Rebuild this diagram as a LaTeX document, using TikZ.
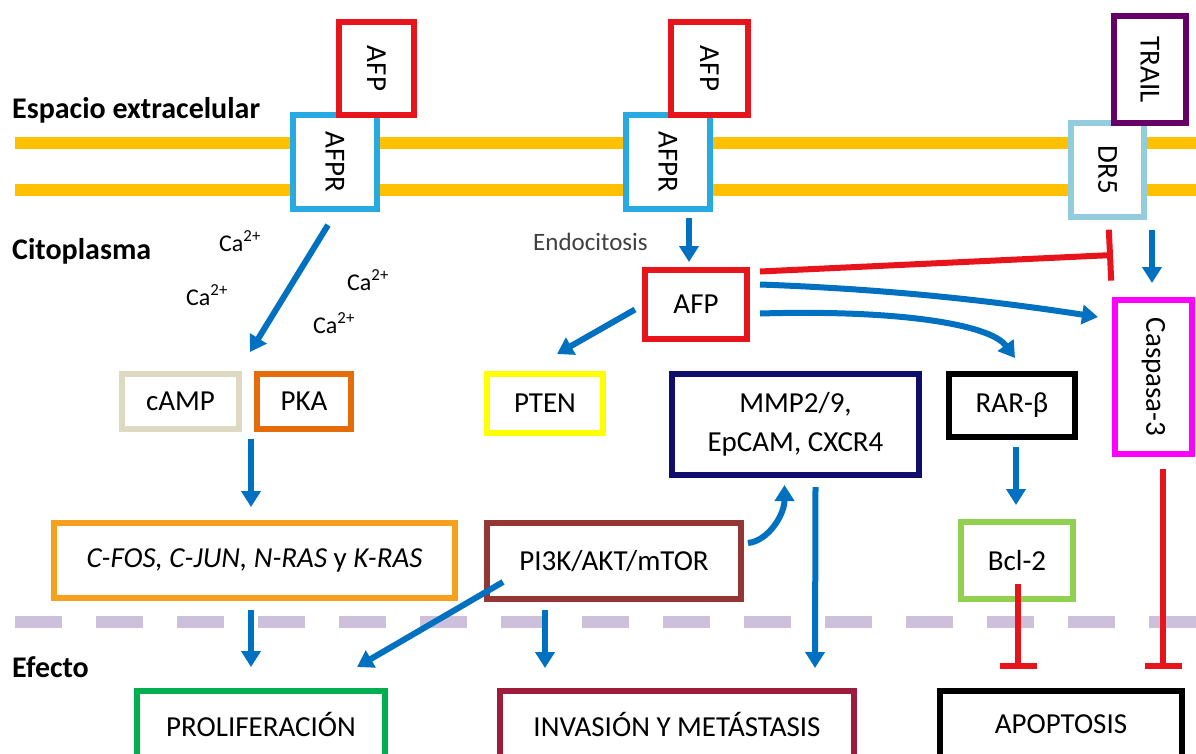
\documentclass[tikz,border=0pt]{standalone}
\usepackage{fontspec}
\setmainfont{Carlito}
\usetikzlibrary{arrows.meta,calc}

\definecolor{membrana}{HTML}{FFC000}
\definecolor{separa}{HTML}{CCC0DA}
\definecolor{azul}{HTML}{0070C0}
\definecolor{rojo}{HTML}{E8141B}
\definecolor{afpr}{HTML}{27A9E1}
\definecolor{trail}{HTML}{660066}
\definecolor{drcinco}{HTML}{93CDDD}
\definecolor{caspasa}{HTML}{FF00FF}
\definecolor{camp}{HTML}{DDD9C3}
\definecolor{pka}{HTML}{E46C0A}
\definecolor{pten}{HTML}{FFFF00}
\definecolor{mmp}{HTML}{0F0F6B}
\definecolor{cfos}{HTML}{F7A01E}
\definecolor{pik}{HTML}{943634}
\definecolor{bcl}{HTML}{92D050}
\definecolor{prolif}{HTML}{00B050}
\definecolor{invas}{HTML}{9E1B3C}

\tikzset{
  caja/.style={draw, line width=6pt, fill=white, inner sep=0pt, outer sep=0pt, align=center,
    font=\fontsize{29}{39}\selectfont},
  flecha/.style={azul, line width=6pt, -{Triangle[width=19pt,length=16pt]}},
  inhibe/.style={rojo, line width=6pt, -{Bar[width=#1]}},
  zona/.style={anchor=base west, inner sep=0pt, font=\bfseries\fontsize{30}{34}\selectfont},
  calcio/.style={anchor=base west, inner sep=0pt, font=\fontsize{24}{28}\selectfont},
}

\begin{document}
\begin{tikzpicture}[x=1pt,y=-1pt]
\clip (0,0) rectangle (1196,753);
\fill[white] (0,0) rectangle (1196,753);

% membrana y separacion
\draw[membrana, line width=12pt] (15,143) -- (1200,143);
\draw[membrana, line width=12pt] (15,190) -- (1200,190);
\draw[separa, line width=12pt, dash pattern=on 47pt off 34pt] (15,622) -- (1200,622);

% zonas
\node[zona] (extra) at (12,118) {Espacio extracelular};
\node[zona] (cito) at (12,259) {Citoplasma};
\node[zona] (efecto) at (12,677) {Efecto};

\node[calcio] (ca1) at (219,251) {Ca\textsuperscript{2+}};
\node[calcio] (ca2) at (186,305) {Ca\textsuperscript{2+}};
\node[calcio] (ca3) at (347,290) {Ca\textsuperscript{2+}};
\node[calcio] (ca4) at (313,333) {Ca\textsuperscript{2+}};
\node[anchor=base west, inner sep=0pt, text=black!75, font=\fontsize{25}{28}\selectfont] (endo) at (533,250) {Endocitosis};

% receptores
\node[caja, draw=afpr, minimum width=84pt, minimum height=94pt] (AFPRa) at (335,162) {\rotatebox{-90}{AFPR}};
\node[caja, draw=rojo, minimum width=75pt, minimum height=93pt] (AFPa) at (376.5,68.5) {\rotatebox{-90}{AFP}};
\node[caja, draw=afpr, minimum width=84pt, minimum height=94pt] (AFPRb) at (668,162) {\rotatebox{-90}{AFPR}};
\node[caja, draw=rojo, minimum width=77pt, minimum height=93pt] (AFPb) at (709.5,68.5) {\rotatebox{-90}{AFP}};
\node[caja, draw=drcinco, minimum width=73pt, minimum height=94pt] (DR5) at (1107.5,170) {\rotatebox{-90}{DR5}};
\node[caja, draw=trail, minimum width=72pt, minimum height=107pt] (TRAIL) at (1150,69.5) {\rotatebox{-90}{TRAIL}};

% citoplasma
\node[caja, draw=rojo, minimum width=102pt, minimum height=69pt] (AFPc) at (696,304.5) {AFP};
\node[caja, draw=caspasa, minimum width=77pt, minimum height=154pt] (Casp) at (1153.5,377) {\rotatebox{-90}{Caspasa-3}};
\node[caja, draw=camp, minimum width=117pt, minimum height=55pt] (cAMP) at (180.5,401.5) {cAMP};
\node[caja, draw=pka, minimum width=94pt, minimum height=55pt] (PKA) at (304,401.5) {PKA};
\node[caja, draw=pten, minimum width=116pt, minimum height=59pt] (PTEN) at (545,403.5) {PTEN};
\node[caja, draw=mmp, minimum width=247pt, minimum height=101pt] (MMP) at (795.5,424.5)
  {\raisebox{-5pt}{\begin{tabular}{@{}c@{}}MMP2/9,\\EpCAM, CXCR4\end{tabular}}};
\node[caja, draw=black, minimum width=126pt, minimum height=63pt] (RAR) at (1012,405.5) {RAR-β};
\node[caja, draw=cfos, minimum width=401pt, minimum height=75pt] (CFOS) at (254.5,560.5)
  {\textit{C-FOS, C-JUN, N-RAS} y \textit{K-RAS}};
\node[caja, draw=pik, minimum width=254pt, minimum height=76pt] (PI3K) at (614,561) {PI3K/AKT/mTOR};
\node[caja, draw=bcl, minimum width=112pt, minimum height=77pt] (Bcl) at (1017,560.5) {Bcl-2};

% efecto
\node[caja, draw=prolif, minimum width=248pt, minimum height=66pt] (PROLIF) at (261,724) {PROLIFERACIÓN};
\node[caja, draw=invas, minimum width=354pt, minimum height=66pt] (INV) at (677,724) {INVASIÓN Y METÁSTASIS};
\node[caja, draw=black, minimum width=242pt, minimum height=66pt] (APOP) at (1061,724) {APOPTOSIS};

% vias
\draw[flecha] ($(AFPRa.south)+(-7,16)$) -- ($(PKA.north west)+(-7,-22)$);
\draw[flecha] ($(PKA.south west)+(-6,10)$) -- ($(CFOS.north)+(-3.5,-16)$);
\draw[flecha] ($(CFOS.south)+(-3.5,12)$) -- ($(PROLIF.north)+(-10,-24)$);
\draw[flecha] ($(PI3K.south west)+(16,-17)$) -- ($(PROLIF.north east)+(-28,-24)$);
\draw[flecha] ($(PI3K.south)+(-69,11)$) -- ($(INV.north)+(-132,-23)$);
\draw[flecha] ($(MMP.south)+(20,12)$) -- ($(INV.north)+(138,-23)$);
\draw[flecha] ($(PI3K.east)+(7,-18)$) .. controls ($(PI3K.east)+(27,-20)$) and ($(MMP.south)+(-11,40)$) .. ($(MMP.south)+(-11,10)$);
\draw[flecha] ($(AFPRb.south)+(21,9)$) -- ($(AFPc.north)+(-7,-8)$);
\draw[flecha] ($(AFPc.west)+(-10,5)$) -- ($(PTEN.north)+(12,-20)$);
\draw[flecha] ($(AFPc.east)+(13,-20)$) .. controls ($(AFPc.east)+(150,-15)$) and ($(Casp.west)+(-115,-75)$) .. ($(Casp.west)+(-17,-60)$);
\draw[flecha] ($(AFPc.east)+(13,9)$) .. controls ($(AFPc.east)+(150,5)$) and ($(RAR.north)+(-22,-50)$) .. ($(RAR.north)+(3,-16)$);
\coordinate (bloqueo) at ($(DR5.south)+(5.5,38)$);
\draw[inhibe=51pt] ($(AFPc.east)+(13,-33)$) -- (bloqueo);
\draw[flecha] ($(DR5.south east)+(8,13)$) -- ($(Casp.north)+(-1.5,-17)$);
\draw[flecha] ($(RAR.south)+(4,10)$) -- ($(Bcl.north)+(-1,-17)$);
\draw[inhibe=37pt] ($(Bcl.south)+(1,-15)$) -- ($(APOP.north)+(-43,-22)$);
\draw[inhibe=37pt] ($(Casp.south)+(9.5,15)$) -- ($(APOP.north)+(102,-22)$);
\end{tikzpicture}
\end{document}
